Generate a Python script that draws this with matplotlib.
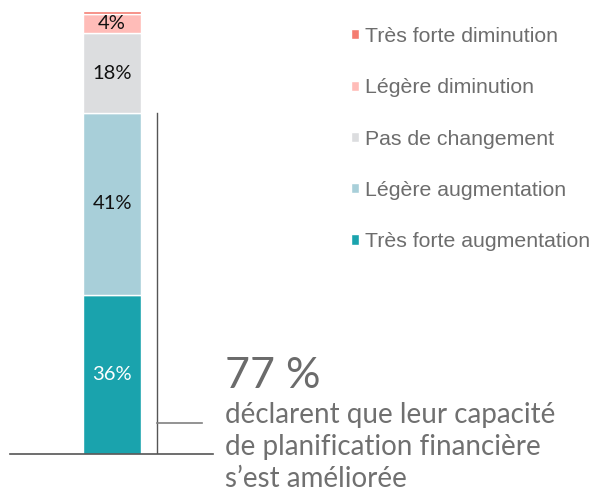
import matplotlib
matplotlib.use("Agg")
import matplotlib.pyplot as plt

# stacked shares, bottom to top
categories = [
    "Très forte augmentation",
    "Légère augmentation",
    "Pas de changement",
    "Légère diminution",
    "Très forte diminution",
]
values = [36, 41, 18, 4.4, 0.6]
labels = ["36%", "41%", "18%", "4%", ""]
colors = ["#1aa3ad", "#a8cfd9", "#dcdddf", "#ffbcb8", "#f47c70"]
label_colors = ["white", "#111111", "#111111", "#111111", "#111111"]

headline = "77 %"
caption = ["déclarent que leur capacité",
           "de planification financière",
           "s\u2019est améliorée"]

W, H = 592, 495
fig = plt.figure(figsize=(W / 100, H / 100), dpi=100)

# axes spanning the baseline (x 10..213 px), y 0..100 from px 454 to 11
ax = fig.add_axes([10 / W, (H - 454) / H, 203 / W, 443 / H])
ax.set_xlim(-1.759, 1.741)
ax.set_ylim(0, 100)
ax.axis("off")

bottom = 0
handles = []
for cat, v, lab, c, lc in zip(categories, values, labels, colors, label_colors):
    b = ax.bar(0, v, width=1, bottom=bottom, color=c, edgecolor="white",
               linewidth=1, label=cat)
    handles.append(b)
    if lab:
        ax.text(0, bottom + v / 2, lab, ha="center", va="center",
                fontsize=14.5, color=lc, family="Lato")
    bottom += v

# baseline and bracket for the "improved" share
ax.axhline(0, color="#555555", lw=1.2, clip_on=False)
improved = values[0] + values[1]
ax.plot([0.781, 0.781], [0, improved], color="#555555", lw=1)
ax.plot([0.781, 1.552], [7.1, 7.1], color="#808080", lw=1.2)

fig.legend(handles[::-1], categories[::-1], loc="upper left",
           bbox_to_anchor=(351 / W, 1 - 27 / H), frameon=False,
           labelcolor="#6d6d6d",
           handlelength=0.36, handleheight=0.36, handletextpad=0.3,
           labelspacing=1.52, borderpad=0, borderaxespad=0,
           prop={"family": "Liberation Sans", "size": 15.3})

fig.text(225 / W, 1 - 388 / H, headline, fontsize=31, color="#6b6b6b",
         family="Lato", va="baseline")
for i, line in enumerate(caption):
    fig.text(225 / W, 1 - (423 + 32 * i) / H, line, fontsize=20,
             color="#707070", family="Lato", va="baseline")

fig.savefig("out.png", dpi=100)
